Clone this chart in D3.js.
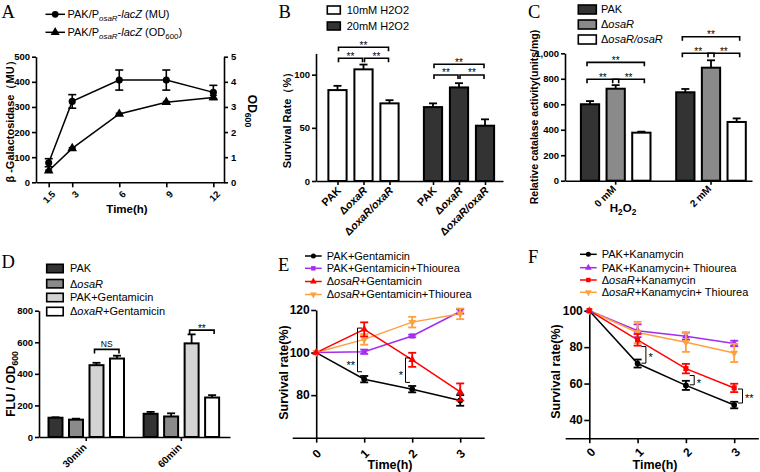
<!DOCTYPE html>
<html><head><meta charset="utf-8">
<script src="https://cdn.jsdelivr.net/npm/d3@7"></script>
<style>body{margin:0;background:#fff;}svg{display:block;background:#fff;}</style>
</head><body>
<svg id="c" width="760" height="472"></svg>
<script>
// ---------- DATA ----------
// Panel A
const timeA = [1.5, 3, 6, 9, 12];
const muA = [78, 322, 407, 407, 358];
const muErrA = [16, 27, 40, 40, 28];
const odA = [0.46, 1.35, 2.72, 3.19, 3.38];
const odErrA = [0.03, 0.03, 0.03, 0.03, 0.08];
const yTicksA = [0, 100, 200, 300, 400, 500];
const y2TicksA = [0, 1, 2, 3, 4, 5];
const legendA = ["PAK/P<si>osaR</si>-<i>lacZ</i> (MU)", "PAK/P<si>osaR</si>-<i>lacZ</i> (OD<s>600</s>)"];

// Panel B
const dosesB = ["10mM H2O2", "20mM H2O2"];
const strainsB = ["PAK", "Δ<i>oxaR</i>", "Δ<i>oxaR/oxaR</i>"];
const survB10 = [85.5, 105, 73];
const survB10Err = [4, 4.5, 3];
const survB20 = [69.5, 88, 52];
const survB20Err = [3.5, 4, 6];
const yTicksB = [0, 50, 100];
const sigB = [
  {g: 0, a: 0, b: 1, level: 115.4, label: "**"}, {g: 0, a: 1, b: 2, level: 115.4, label: "**"}, {g: 0, a: 0, b: 2, level: 125.8, label: "**"},
  {g: 1, a: 0, b: 1, level: 99.7, label: "**"}, {g: 1, a: 1, b: 2, level: 99.7, label: "**"}, {g: 1, a: 0, b: 2, level: 109.8, label: "**"}
];

// Panel C
const dosesC = ["0 mM", "2 mM"];
const strainsC = ["PAK", "Δ<i>osaR</i>", "Δ<i>osaR/osaR</i>"];
const catPAK = [600, 694], catPAKErr = [25, 26];
const catOsaR = [722, 887], catOsaRErr = [28, 58];
const catComp = [377, 461], catCompErr = [8, 28];
const yTicksC = [0, 200, 400, 600, 800, 1000];
const sigC = [
  {g: 0, a: 0, b: 1, level: 796, label: "**"}, {g: 0, a: 1, b: 2, level: 796, label: "**"}, {g: 0, a: 0, b: 2, level: 929, label: "**"},
  {g: 1, a: 0, b: 1, level: 1000, label: "**"}, {g: 1, a: 1, b: 2, level: 1000, label: "**"}, {g: 1, a: 0, b: 2, level: 1130, label: "**"}
];

// Panel D
const timesD = ["30min", "60min"];
const seriesD = ["PAK", "Δ<i>osaR</i>", "PAK+Gentamicin", "Δ<i>oxaR</i>+Gentamicin"];
const fluPAK = [122, 147], fluPAKErr = [3, 12];
const fluOsaR = [110, 130], fluOsaRErr = [6, 20];
const fluPAKGen = [455, 593], fluPAKGenErr = [15, 57];
const fluOsaRGen = [497, 250], fluOsaRGenErr = [18, 15];
const yTicksD = [0, 200, 400, 600, 800];
const sigD = [{g: 0, a: 2, b: 3, level: 555, label: "NS"}, {g: 1, a: 2, b: 3, level: 677, label: "**"}];

// Panel E
const timeE = [0, 1, 2, 3];
const namesE = ["PAK+Gentamicin", "PAK+Gentamicin+Thiourea", "Δ<i>osaR</i>+Gentamicin", "Δ<i>osaR</i>+Gentamicin+Thiourea"];
const ePAK = [100, 87.5, 82.8, 77.5], ePAKErr = [0, 1.5, 1.5, 2.5];
const ePAKThio = [100, 100.4, 107.8, 119.3], ePAKThioErr = [0, 1, 0.6, 1];
const eOsaR = [100, 110.9, 96.6, 81.5], eOsaRErr = [0, 3.3, 3.3, 4];
const eOsaRThio = [100, 106.2, 114.3, 118.2], eOsaRThioErr = [0, 2.5, 2.5, 2.5];
const yTicksE = [80, 100, 120];
const sigE = [{t: 1, lo: 91, hi: 111.5, label: "**"}, {t: 2, lo: 86, hi: 97.5, label: "*"}];

// Panel F
const timeF = [0, 1, 2, 3];
const namesF = ["PAK+Kanamycin", "PAK+Kanamycin+ Thiourea", "Δ<i>osaR</i>+Kanamycin", "Δ<i>osaR</i>+Kanamycin+ Thiourea"];
const fPAK = [100, 71, 59, 48.2], fPAKErr = [0, 2.2, 2.5, 1.8];
const fPAKThio = [100, 89, 86, 82], fPAKThioErr = [0, 3.5, 2, 1.5];
const fOsaR = [100, 84, 68.2, 57.6], fOsaRErr = [0, 3.2, 2.6, 2.3];
const fOsaRThio = [100, 88, 82.7, 76.8], fOsaRThioErr = [0, 5.9, 5.3, 5];
const yTicksF = [40, 60, 80, 100];
const sigF = [{t: 1, lo: 71.2, hi: 80.3, label: "*"}, {t: 2, lo: 59.3, hi: 64.4, label: "*"}, {t: 3, lo: 49.3, hi: 57, label: "**"}];

// ---------- HELPERS ----------
const FONT = "'Liberation Sans', Arial, sans-serif";
const svg = d3.select("#c");

function rich(sel, str, fs) {
  sel.text(null);
  const re = /<(i|s|si)>(.*?)<\/\1>/g;
  let last = 0, m; const parts = [];
  while ((m = re.exec(str))) {
    if (m.index > last) parts.push({t: str.slice(last, m.index), k: ""});
    parts.push({t: m[2], k: m[1]}); last = re.lastIndex;
  }
  if (last < str.length) parts.push({t: str.slice(last), k: ""});
  let shifted = false;
  parts.forEach(p => {
    const ts = sel.append("tspan").text(p.t);
    if (p.k === "i" || p.k === "si") ts.style("font-style", "italic");
    if (p.k === "s" || p.k === "si") { ts.attr("font-size", fs * 0.72).attr("dy", fs * 0.28); shifted = true; }
    else if (shifted) { ts.attr("dy", -fs * 0.28); shifted = false; }
  });
}
function styleAxis(g, fs) {
  g.attr("font-family", FONT).attr("font-size", fs).attr("font-weight", "bold");
  g.select(".domain").attr("stroke-width", 1.6);
  g.selectAll(".tick line").attr("stroke-width", 1.6);
  g.selectAll(".tick text").attr("fill", "#000");
}
function rotLabels(g, dx, dy, anchor, fs) {
  g.selectAll(".tick text").each(function (d) {
    const t = d3.select(this);
    const s = t.text();
    t.attr("x", 0).attr("y", 0).attr("dy", "0.35em")
      .attr("transform", `translate(${dx},${dy}) rotate(-45)`).style("text-anchor", anchor);
    if (fs) rich(t, s, fs);
  });
}
function letter(t, x, y) {
  svg.append("text").attr("x", x).attr("y", y).attr("font-family", "'Liberation Serif', 'Times New Roman', serif")
    .attr("font-size", 18.5).text(t);
}
function title(str, x, y, rot, fs) {
  const t = svg.append("text").attr("transform", `translate(${x},${y}) rotate(${rot})`)
    .attr("text-anchor", "middle").attr("font-family", FONT).attr("font-weight", "bold").attr("font-size", fs);
  rich(t, str, fs);
  return t;
}
function legText(str, x, y, fs) {
  const t = svg.append("text").attr("x", x).attr("y", y).attr("dy", "0.36em")
    .attr("font-family", FONT).attr("font-size", fs);
  rich(t, str, fs);
}
function errBar(g, x, y0, y1, cap, color, sw) {
  g.append("line").attr("x1", x).attr("x2", x).attr("y1", y0).attr("y2", y1).attr("stroke", color).attr("stroke-width", sw);
  g.append("line").attr("x1", x - cap / 2).attr("x2", x + cap / 2).attr("y1", y1).attr("y2", y1).attr("stroke", color).attr("stroke-width", sw);
}

// ---------- PANEL A ----------
(function () {
  const x = d3.scaleLinear().domain([0.69, 12.68]).range([36, 224]);
  const y = d3.scaleLinear().domain([0, 500]).range([182.3, 56.7]);
  const y2 = d3.scaleLinear().domain([0, 5]).range([182.3, 56.7]);
  const g = svg.append("g");
  const ax = g.append("g").attr("transform", `translate(0,${y(0)})`)
    .call(d3.axisBottom(x).tickValues(timeA).tickFormat(d => d).tickSize(5).tickSizeOuter(0));
  styleAxis(ax, 9.5); rotLabels(ax, 4.5, 10, "end");
  const ay = g.append("g").attr("transform", `translate(${x.range()[0]},0)`)
    .call(d3.axisLeft(y).tickValues(yTicksA).tickSize(4).tickPadding(2).tickSizeOuter(0));
  styleAxis(ay, 9.5);
  const ay2 = g.append("g").attr("transform", `translate(${x.range()[1]},0)`)
    .call(d3.axisRight(y2).tickValues(y2TicksA).tickFormat(d3.format("d")).tickSize(4).tickPadding(3).tickSizeOuter(0));
  styleAxis(ay2, 9.5);

  const mu = timeA.map((t, i) => ({t, v: muA[i], e: muErrA[i]}));
  const od = timeA.map((t, i) => ({t, v: odA[i], e: odErrA[i]}));
  g.append("path").datum(mu).attr("fill", "none").attr("stroke", "#000").attr("stroke-width", 1.5)
    .attr("d", d3.line().x(d => x(d.t)).y(d => y(d.v)));
  g.append("path").datum(od).attr("fill", "none").attr("stroke", "#000").attr("stroke-width", 1.5)
    .attr("d", d3.line().x(d => x(d.t)).y(d => y2(d.v)));
  mu.forEach(d => { errBar(g, x(d.t), y(d.v), y(d.v + d.e), 8, "#000", 1.6); errBar(g, x(d.t), y(d.v), y(d.v - d.e), 8, "#000", 1.6); });
  od.forEach(d => { errBar(g, x(d.t), y2(d.v), y2(d.v + d.e), 7, "#000", 1.4); errBar(g, x(d.t), y2(d.v), y2(d.v - d.e), 7, "#000", 1.4); });
  g.selectAll(".mc").data(mu).join("path").attr("transform", d => `translate(${x(d.t)},${y(d.v)})`)
    .attr("d", d3.symbol(d3.symbolCircle, 40));
  g.selectAll(".mt").data(od).join("path").attr("transform", d => `translate(${x(d.t)},${y2(d.v)})`)
    .attr("d", d3.symbol(d3.symbolTriangle, 40));

  // legend
  const lg = svg.append("g");
  [14.3, 32.3].forEach((ly, i) => {
    lg.append("line").attr("x1", 45.5).attr("x2", 65).attr("y1", ly).attr("y2", ly).attr("stroke", "#000").attr("stroke-width", 1.5);
    lg.append("path").attr("transform", `translate(55.2,${ly})`).attr("d", d3.symbol(i === 0 ? d3.symbolCircle : d3.symbolTriangle, 36));
    legText(legendA[i], 67.5, ly, 11);
  });
  letter("A", 1.5, 18.3);
  title("β -Galactosidase（MU）", 13.5, 119, -90, 11);
  title("OD<s>600</s>", 248, 111, 90, 12);
  title("Time(h)", 127, 213, 0, 11.5);
})();

// ---------- GENERIC GROUPED BARS ----------
function groupedBars(cfg) {
  const g = svg.append("g");
  const outer = d3.scaleBand().domain(cfg.groups).range(cfg.range)
    .paddingInner(cfg.pi).paddingOuter(cfg.po).align(cfg.align);
  const inner = d3.scaleBand().domain(cfg.series).range([0, outer.bandwidth()])
    .paddingInner(cfg.ii).paddingOuter(cfg.ii / 2);
  const y = cfg.y;
  const cx = (gi, si) => outer(cfg.groups[gi]) + inner(cfg.series[si]) + inner.bandwidth() / 2;
  // bars
  cfg.rows.forEach(r => {
    const x0 = outer(r.group) + inner(r.key);
    errBar(g, x0 + inner.bandwidth() / 2, y(r.value), y(r.value + r.err), 8, "#000", 1.8);
    g.append("rect").attr("x", x0).attr("y", y(r.value)).attr("width", inner.bandwidth())
      .attr("height", y(0) - y(r.value)).attr("fill", r.fill).attr("stroke", "#000").attr("stroke-width", 2);
  });
  // axes
  const ay = g.append("g").attr("transform", `translate(${cfg.range[0]},0)`)
    .call(d3.axisLeft(y).tickValues(cfg.yTicks).tickSize(4).tickPadding(2).tickSizeOuter(0));
  styleAxis(ay, 9.5);
  const ax = g.append("g").attr("transform", `translate(0,${y(0)})`);
  if (cfg.perBarTicks) {
    const keys = [], pos = [];
    cfg.groups.forEach((gr, gi) => cfg.series.forEach((s, si) => { keys.push(gr + "|" + s); pos.push(cx(gi, si)); }));
    const ord = d3.scaleOrdinal().domain(keys).range(pos);
    ax.call(d3.axisBottom(ord).tickSize(4).tickSizeOuter(0).tickFormat(k => k.split("|")[1]));
    ax.select(".domain").remove();
    const line = ax.append("g").call(d3.axisBottom(outer).tickValues([]).tickSizeOuter(0));
    line.select(".domain").attr("stroke-width", 1.6);
    styleAxis(ax, cfg.xfs);
    rotLabels(ax, cfg.ldx, cfg.ldy, "end", cfg.xfs);
  } else {
    ax.call(d3.axisBottom(outer).tickSize(4).tickSizeOuter(0));
    styleAxis(ax, cfg.xfs);
    rotLabels(ax, cfg.ldx, cfg.ldy, "end", cfg.xfs);
  }
  // significance brackets
  cfg.sig.forEach(s => {
    const x1 = cx(s.g, s.a) + cfg.bx[0], x2 = cx(s.g, s.b) + cfg.bx[1], yl = y(s.level);
    g.append("path").attr("d", `M${x1},${yl + 4}V${yl}H${x2}V${yl + 4}`).attr("fill", "none")
      .attr("stroke", "#000").attr("stroke-width", 1.6);
    g.append("text").attr("x", (x1 + x2) / 2).attr("y", yl + (s.label === "NS" ? -2.5 : 1.5)).attr("text-anchor", "middle")
      .attr("font-family", FONT).attr("font-size", s.label === "NS" ? 8.5 : 10).attr("fill", "#000").text(s.label);
  });
  return g;
}

// ---------- PANEL B ----------
(function () {
  const y = d3.scaleLinear().domain([0, 120]).range([181, 53.4]);
  const rows = [];
  strainsB.forEach((s, i) => rows.push({group: dosesB[0], key: s, value: survB10[i], err: survB10Err[i], fill: "#ffffff"}));
  strainsB.forEach((s, i) => rows.push({group: dosesB[1], key: s, value: survB20[i], err: survB20Err[i], fill: "#333333"}));
  groupedBars({groups: dosesB, series: strainsB, range: [316, 503], pi: 0.183, po: 0.0705, align: 0.63, ii: 0.3,
    y, rows, yTicks: yTicksB, perBarTicks: true, ldx: 1, ldy: 7.5, xfs: 10.8, sig: sigB, bx: [1, -1]});
  svg.append("rect").attr("x", 327.3).attr("y", 6).attr("width", 13).attr("height", 8).attr("fill", "#fff").attr("stroke", "#000").attr("stroke-width", 1.6);
  svg.append("rect").attr("x", 327.3).attr("y", 22).attr("width", 13).attr("height", 8).attr("fill", "#333").attr("stroke", "#000").attr("stroke-width", 1.6);
  legText(dosesB[0], 346.7, 10, 11);
  legText(dosesB[1], 346.7, 26, 11);
  letter("B", 278.5, 18.3);
  title("Survival Rate（%）", 291, 117.5, -90, 11);
})();

// ---------- PANEL C ----------
(function () {
  const y = d3.scaleLinear().domain([0, 1000]).range([180.7, 53.3]);
  const fills = ["#333333", "#8a8a8a", "#ffffff"];
  const vals = [catPAK, catOsaR, catComp], errs = [catPAKErr, catOsaRErr, catCompErr];
  const rows = [];
  dosesC.forEach((d, gi) => strainsC.forEach((s, si) => rows.push({group: d, key: s, value: vals[si][gi], err: errs[si][gi], fill: fills[si]})));
  groupedBars({groups: dosesC, series: strainsC, range: [565, 752], pi: 0.192, po: 0.077, align: 0.83, ii: 0.288,
    y, rows, yTicks: yTicksC, perBarTicks: false, ldx: -1.5, ldy: 6.5, xfs: 10, sig: sigC, bx: [-3, 3]});
  strainsC.forEach((s, i) => {
    svg.append("rect").attr("x", 578.3).attr("y", 5 + 15 * i).attr("width", 18).attr("height", 9).attr("fill", fills[i]).attr("stroke", "#000").attr("stroke-width", 1.6);
    legText(s, 601, 9.5 + 15 * i, 11);
  });
  letter("C", 528, 18.3);
  title("Relative catalase activity(units/mg)", 537.5, 117, -90, 10.5);
  title("H<s>2</s>O<s>2</s>", 623, 212, 0, 11.5);
})();

// ---------- PANEL D ----------
(function () {
  const y = d3.scaleLinear().domain([0, 800]).range([437, 310.7]);
  const fills = ["#333333", "#8a8a8a", "#d4d4d4", "#ffffff"];
  const vals = [fluPAK, fluOsaR, fluPAKGen, fluOsaRGen], errs = [fluPAKErr, fluOsaRErr, fluPAKGenErr, fluOsaRGenErr];
  const rows = [];
  timesD.forEach((d, gi) => seriesD.forEach((s, si) => rows.push({group: d, key: s, value: vals[si][gi], err: errs[si][gi], fill: fills[si]})));
  groupedBars({groups: timesD, series: seriesD, range: [39, 230], pi: 0.138, po: 0.073, align: 0.45, ii: 0.317,
    y, rows, yTicks: yTicksD, perBarTicks: false, ldx: -1.5, ldy: 8.4, xfs: 10, sig: sigD, bx: [-2, 2]});
  const ly = [264.3, 279.5, 293.3, 307.3];
  seriesD.forEach((s, i) => {
    svg.append("rect").attr("x", 46.7).attr("y", ly[i]).attr("width", 16.5).attr("height", 8.4).attr("fill", fills[i]).attr("stroke", "#000").attr("stroke-width", 1.6);
    legText(s, 70, ly[i] + 4.2, 11);
  });
  letter("D", 1.5, 268.3);
  title("FLU / OD<s>600</s>", 15, 384, -90, 12);
})();

// ---------- GENERIC LINE PANEL ----------
function linePanel(cfg) {
  const g = svg.append("g");
  const x = cfg.x, y = cfg.y;
  const ax = g.append("g").attr("transform", `translate(0,${y.range()[0]})`)
    .call(d3.axisBottom(x).tickValues(cfg.time).tickFormat(d => d).tickSize(5).tickSizeOuter(0));
  styleAxis(ax, 12); rotLabels(ax, cfg.ldx, cfg.ldy, "middle");
  const ay = g.append("g").attr("transform", `translate(${x(0)},0)`)
    .call(d3.axisLeft(y).tickValues(cfg.yTicks).tickSize(5).tickPadding(1.5).tickSizeOuter(0));
  styleAxis(ay, 12);
  cfg.series.forEach(s => {
    const pts = cfg.time.map((t, i) => ({t, v: s.vals[i], e: s.errs[i]}));
    g.append("path").datum(pts).attr("fill", "none").attr("stroke", s.color).attr("stroke-width", 1.5)
      .attr("d", d3.line().x(d => x(d.t)).y(d => y(d.v)));
    s.pts = pts;
  });
  cfg.series.forEach(s => {
    s.pts.forEach(d => {
      if (d.e > 0) { errBar(g, x(d.t), y(d.v), y(d.v + d.e), 8, s.color, 1.8); errBar(g, x(d.t), y(d.v), y(d.v - d.e), 8, s.color, 1.8); }
    });
    g.selectAll(null).data(s.pts).join("path")
      .attr("transform", d => `translate(${x(d.t)},${y(d.v)})` + (s.flip ? " rotate(180)" : ""))
      .attr("d", d3.symbol(s.marker, 26)).attr("fill", s.color);
  });
  // legend
  cfg.series.forEach((s, i) => {
    const ly = cfg.legY[i];
    svg.append("line").attr("x1", cfg.legX[0]).attr("x2", cfg.legX[1]).attr("y1", ly).attr("y2", ly).attr("stroke", s.color).attr("stroke-width", 1.5);
    svg.append("path").attr("transform", `translate(${(cfg.legX[0] + cfg.legX[1]) / 2},${ly})` + (s.flip ? " rotate(180)" : ""))
      .attr("d", d3.symbol(s.marker, 20)).attr("fill", s.color);
    legText(s.name, cfg.legX[1] + 5, ly, 11);
  });
  // brackets
  cfg.sig.forEach(b => {
    const xv = x(b.t) + cfg.bOff, dir = cfg.bDir;
    const y1 = y(b.hi), y2 = y(b.lo);
    g.append("path").attr("d", `M${xv + dir * 4.5},${y1}H${xv}V${y2}H${xv + dir * 4.5}`).attr("fill", "none")
      .attr("stroke", "#000").attr("stroke-width", 1);
    const ty = cfg.labelLow ? y2 - 3 : (y1 + y2) / 2 + 6.4;
    g.append("text").attr("x", xv - dir * 2.5).attr("y", ty).attr("text-anchor", dir > 0 ? "end" : "start")
      .attr("font-family", FONT).attr("font-size", 11).attr("fill", "#000").text(b.label);
  });
}

// ---------- PANEL E ----------
linePanel({
  x: d3.scaleLinear().domain([-0.5, 3.5]).range([292.2, 484.2]),
  y: d3.scaleLinear().domain([60, 120]).range([437.7, 310]),
  time: timeE, yTicks: yTicksE, ldx: 0, ldy: 16,
  series: [
    {name: namesE[0], vals: ePAK, errs: ePAKErr, color: "#000000", marker: d3.symbolCircle},
    {name: namesE[1], vals: ePAKThio, errs: ePAKThioErr, color: "#a52cf0", marker: d3.symbolSquare},
    {name: namesE[3], vals: eOsaRThio, errs: eOsaRThioErr, color: "#ffa040", marker: d3.symbolTriangle, flip: true},
    {name: namesE[2], vals: eOsaR, errs: eOsaRErr, color: "#ff0000", marker: d3.symbolTriangle}
  ],
  legX: [305, 321.7], legY: [256, 268.3, 294.5, 281.5],
  sig: sigE, bOff: -6.7, bDir: 1, labelLow: true
});
letter("E", 278, 270.7);
title("Survival rate(%)", 288, 372.5, -90, 12.5);
title("Time(h)", 390, 469, 0, 12.5);

// ---------- PANEL F ----------
linePanel({
  x: d3.scaleLinear().domain([-0.5, 3.5]).range([565.15, 758.35]),
  y: d3.scaleLinear().domain([30, 100]).range([438.2, 310.7]),
  time: timeF, yTicks: yTicksF, ldx: 1, ldy: 14,
  series: [
    {name: namesF[0], vals: fPAK, errs: fPAKErr, color: "#000000", marker: d3.symbolCircle},
    {name: namesF[1], vals: fPAKThio, errs: fPAKThioErr, color: "#a52cf0", marker: d3.symbolTriangle},
    {name: namesF[3], vals: fOsaRThio, errs: fOsaRThioErr, color: "#ffa040", marker: d3.symbolTriangle, flip: true},
    {name: namesF[2], vals: fOsaR, errs: fOsaRErr, color: "#ff0000", marker: d3.symbolSquare}
  ],
  legX: [580, 596.7], legY: [254.3, 267.7, 292.3, 280],
  sig: sigF, bOff: 8.3, bDir: -1, labelLow: false
});
letter("F", 528, 263.3);
title("Survival rate(%)", 560, 371.5, -90, 12.5);
title("Time(h)", 655, 469, 0, 12.5);
</script>
</body></html>
